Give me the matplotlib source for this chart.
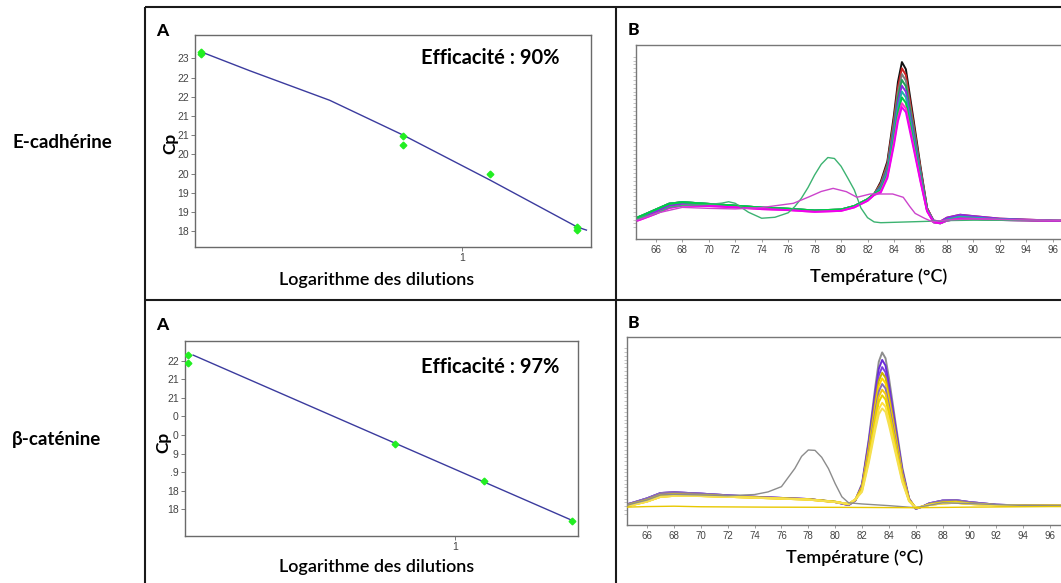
import matplotlib
matplotlib.use("Agg")
import numpy as np
import matplotlib.pyplot as plt
from matplotlib.lines import Line2D
from matplotlib.ticker import FixedLocator, FixedFormatter, NullLocator

W, H, DPI = 1061, 583, 100

# ---------------- standard curves (Cp vs dilution) ----------------
ecad_dil = [0.125, 0.125, 0.625, 0.625, 1.25, 2.5, 2.5]
ecad_cp = [23.17, 23.11, 20.98, 20.74, 20.0, 18.61, 18.53]
ecad_fit_x = [0.125, 0.184, 0.348, 0.626, 1.25, 2.5, 2.69]
ecad_fit_y = [23.17, 22.68, 21.91, 21.0, 19.83, 18.61, 18.53]
ecad_yticks = [23.0, 22.5, 22.0, 21.5, 21.0, 20.5, 20.0, 19.5, 19.0, 18.5]
ecad_ylabels = ["23", "22", "22", "21", "21", "20", "20", "19", "19", "18"]
ecad_eff = "Efficacité : 90%"

bcat_dil = [0.125, 0.125, 0.625, 1.25, 2.5]
bcat_cp = [22.15, 21.95, 19.77, 18.76, 17.69]
bcat_fit_x = [0.130, 2.51]
bcat_fit_y = [22.15, 17.69]
bcat_yticks = [22.0, 21.5, 21.0, 20.5, 20.0, 19.5, 19.0, 18.5, 18.0]
bcat_ylabels = ["22", "21", "21", "0", "0", "9", ".9", "18", "18"]
bcat_eff = "Efficacité : 97%"

# ---------------- melting curves, E-cadherine ----------------
b1_T_low = [64.5, 65, 66, 67, 68, 70, 72, 74, 76, 78, 80, 81, 82, 82.5]
b1_T_peak = [83, 83.5, 84, 84.3, 84.6, 84.9, 85.2, 85.5, 86, 86.5]
b1_T_tail = [87, 87.5, 88, 89, 90, 92, 94, 96, 98]

b1_low_a = [1.00, 1.13, 1.41, 1.70, 1.80, 1.75, 1.67, 1.58, 1.53, 1.44, 1.49, 1.67, 2.01, 2.30]
b1_low_b = [0.92, 1.04, 1.30, 1.60, 1.72, 1.70, 1.63, 1.54, 1.49, 1.40, 1.45, 1.63, 1.97, 2.27]
b1_low_c = [1.08, 1.22, 1.52, 1.82, 1.90, 1.81, 1.72, 1.62, 1.56, 1.47, 1.52, 1.70, 2.05, 2.33]
b1_tail_a = [0.90, 0.85, 1.00, 1.15, 1.10, 1.01, 0.98, 0.94, 0.93]
b1_tail_b = [0.86, 0.81, 0.95, 1.05, 1.04, 0.98, 0.96, 0.93, 0.92]
b1_tail_c = [0.95, 0.90, 1.10, 1.25, 1.18, 1.05, 1.00, 0.95, 0.94]

b1_peak_1 = [2.95, 4.00, 6.40, 8.10, 9.12, 8.75, 7.40, 6.05, 3.75, 1.60]
b1_peak_2 = [2.87, 3.88, 6.19, 7.82, 8.80, 8.45, 7.15, 5.85, 3.64, 1.58]
b1_peak_3 = [2.80, 3.77, 5.99, 7.56, 8.50, 8.16, 6.91, 5.67, 3.54, 1.55]
b1_peak_4 = [2.73, 3.66, 5.79, 7.30, 8.20, 7.87, 6.68, 5.48, 3.44, 1.53]
b1_peak_5 = [2.66, 3.55, 5.59, 7.04, 7.90, 7.59, 6.44, 5.29, 3.34, 1.51]
b1_peak_6 = [2.59, 3.44, 5.39, 6.77, 7.60, 7.30, 6.20, 5.11, 3.24, 1.49]
b1_peak_7 = [2.51, 3.33, 5.19, 6.51, 7.30, 7.01, 5.97, 4.92, 3.13, 1.47]
b1_peak_8 = [2.44, 3.22, 4.99, 6.25, 7.00, 6.73, 5.73, 4.73, 3.03, 1.44]
b1_peak_9 = [2.39, 3.14, 4.86, 6.07, 6.80, 6.53, 5.57, 4.61, 2.96, 1.43]

b1_traces = [
    ("#111111", b1_low_a, b1_peak_1, b1_tail_a),
    ("#cc2222", b1_low_c, b1_peak_2, b1_tail_c),
    ("#7d7d7d", b1_low_a, b1_peak_3, b1_tail_a),
    ("#1f9e5a", b1_low_c, b1_peak_4, b1_tail_b),
    ("#8a2be2", b1_low_a, b1_peak_5, b1_tail_c),
    ("#20b2aa", b1_low_c, b1_peak_6, b1_tail_a),
    ("#00cc44", b1_low_c, b1_peak_7, b1_tail_b),
    ("#ff33cc", b1_low_b, b1_peak_8, b1_tail_b),
    ("#ee00ee", b1_low_b, b1_peak_9, b1_tail_b),
]

b1_green_T = [64.5, 65, 66, 67, 68, 70, 71, 71.5, 72, 73, 74, 75, 76, 76.5, 77, 77.5, 78,
              78.5, 79, 79.5, 80, 80.5, 81, 81.5, 82, 82.5, 83, 84, 86, 87, 88, 90, 94, 98]
b1_green_V = [1.00, 1.13, 1.30, 1.64, 1.73, 1.78, 1.85, 1.92, 1.84, 1.38, 1.07, 1.12, 1.35, 1.67,
              2.10, 2.65, 3.30, 3.85, 4.20, 4.15, 3.75, 3.15, 2.53, 1.60, 1.10, 0.88, 0.84,
              0.86, 0.90, 0.92, 0.95, 0.97, 0.96, 0.94]
b1_pink_T = [64.5, 65, 66, 68, 70, 72, 74, 76.4, 77.6, 78.5, 79.4, 80.4, 81.2, 82.2, 83.9,
             84.7, 85.2, 85.6, 86.3, 86.9, 88, 90, 94, 98]
b1_pink_V = [0.95, 1.06, 1.32, 1.63, 1.58, 1.55, 1.62, 1.84, 2.18, 2.45, 2.61, 2.44, 2.15, 2.32,
             2.32, 2.15, 1.67, 1.32, 1.07, 0.89, 0.98, 1.04, 0.98, 0.95]

# ---------------- melting curves, beta-catenine ----------------
b2_T_low = [64.5, 65, 66, 67, 68, 70, 72, 74, 76, 78, 80, 81, 81.5]
b2_T_peak = [82, 82.5, 83, 83.25, 83.5, 83.75, 84, 84.5, 85, 85.5]
b2_T_tail = [86, 86.5, 87, 88, 89, 90, 92, 94, 96, 98]

b2_low_a = [1.05, 1.15, 1.33, 1.60, 1.63, 1.60, 1.54, 1.47, 1.42, 1.37, 1.24, 1.10, 1.33]
b2_low_p = [1.10, 1.20, 1.42, 1.70, 1.74, 1.67, 1.58, 1.50, 1.44, 1.38, 1.22, 1.06, 1.30]
b2_low_y = [1.00, 1.08, 1.25, 1.50, 1.55, 1.54, 1.50, 1.45, 1.40, 1.35, 1.22, 1.12, 1.36]
b2_tail_a = [0.89, 0.98, 1.10, 1.21, 1.24, 1.15, 1.06, 1.03, 1.03, 1.02]
b2_tail_p = [0.86, 0.98, 1.15, 1.30, 1.32, 1.22, 1.08, 1.04, 1.03, 1.02]
b2_tail_y = [0.92, 0.98, 1.06, 1.15, 1.18, 1.12, 1.05, 1.02, 1.02, 1.02]

b2_peak_1 = [2.20, 4.56, 7.41, 8.69, 9.18, 8.87, 7.85, 5.41, 3.05, 1.42]
b2_peak_2 = [2.14, 4.42, 7.12, 8.31, 8.78, 8.48, 7.47, 5.19, 2.91, 1.40]
b2_peak_3 = [2.09, 4.26, 6.83, 7.96, 8.40, 8.12, 7.15, 4.99, 2.82, 1.38]
b2_peak_4 = [2.04, 4.12, 6.59, 7.67, 8.10, 7.83, 6.90, 4.83, 2.74, 1.36]
b2_peak_5 = [2.00, 3.99, 6.35, 7.39, 7.80, 7.54, 6.65, 4.66, 2.67, 1.35]
b2_peak_6 = [1.95, 3.86, 6.12, 7.11, 7.50, 7.26, 6.41, 4.51, 2.60, 1.33]
b2_peak_7 = [1.91, 3.73, 5.88, 6.83, 7.20, 6.97, 6.15, 4.34, 2.52, 1.32]
b2_peak_8 = [1.87, 3.60, 5.64, 6.54, 6.90, 6.67, 5.90, 4.18, 2.45, 1.30]
b2_peak_9 = [1.81, 3.42, 5.33, 6.17, 6.50, 6.29, 5.57, 3.96, 2.35, 1.28]
b2_peak_10 = [1.76, 3.29, 5.10, 5.89, 6.20, 6.01, 5.32, 3.80, 2.28, 1.27]

b2_traces = [
    ("#8e8e8e", b2_low_a, b2_peak_1, b2_tail_a),
    ("#6a2bd9", b2_low_p, b2_peak_2, b2_tail_p),
    ("#7d3fe0", b2_low_p, b2_peak_3, b2_tail_p),
    ("#c9b400", b2_low_a, b2_peak_4, b2_tail_a),
    ("#ffd700", b2_low_y, b2_peak_5, b2_tail_y),
    ("#8a6fb0", b2_low_p, b2_peak_6, b2_tail_p),
    ("#f2c80f", b2_low_y, b2_peak_7, b2_tail_y),
    ("#e6d200", b2_low_a, b2_peak_8, b2_tail_a),
    ("#ffdf40", b2_low_y, b2_peak_9, b2_tail_y),
    ("#f5e050", b2_low_y, b2_peak_10, b2_tail_y),
]

b2_gray_T = [64.5, 65, 66, 67, 68, 70, 72, 74, 75, 76, 77, 77.5, 78, 78.5, 79, 79.5, 80,
             80.5, 81, 82, 84, 86, 87, 88, 90, 94, 98]
b2_gray_V = [1.05, 1.15, 1.33, 1.60, 1.63, 1.60, 1.56, 1.62, 1.76, 2.04, 3.01, 3.65, 3.99,
             3.97, 3.60, 3.00, 2.20, 1.50, 1.18, 1.12, 1.03, 0.92, 1.05, 1.18, 1.14, 1.04, 1.02]
b2_flat_T = [64.5, 66, 68, 70, 75, 80, 86, 90, 96, 98]
b2_flat_V = [0.95, 0.98, 1.00, 0.97, 0.95, 0.94, 0.92, 0.95, 0.98, 0.98]

# ---------------- layout helpers ----------------
fig = plt.figure(figsize=(W / DPI, H / DPI), dpi=DPI)
fig.patch.set_facecolor("white")

SANS = ["Lato", "DejaVu Sans"]
NARROW = ["Liberation Sans Narrow", "Liberation Sans", "DejaVu Sans"]


def rect(x0, y0, x1, y1):
    return [x0 / W, 1 - y1 / H, (x1 - x0) / W, (y1 - y0) / H]


def ftext(x, y, s, **kw):
    fig.text(x / W, 1 - y / H, s, **kw)


def fline(xs, ys, **kw):
    fig.add_artist(Line2D([x / W for x in xs], [1 - y / H for y in ys], **kw))


# table grid
grid_kw = dict(color="#1a1a1a", lw=1.5, solid_capstyle="butt")
fline([145, 1061], [7, 7], **grid_kw)
fline([145, 1061], [300, 300], **grid_kw)
fline([145, 145], [7, 583], **grid_kw)
fline([616, 616], [7, 583], **grid_kw)

# row titles
ftext(12, 143, "E-cadhérine", family=SANS, weight="bold", fontsize=13.5, va="center", ha="left")
ftext(12, 440, "β-caténine", family=SANS, weight="bold", fontsize=13.5, va="center", ha="left")


def std_panel(box, xlim, ylim, dil, cp, fx, fy, yticks, ylabels, eff, eff_xy, cp_xy,
              letter_xy, xlabel_xy):
    ax = fig.add_axes(rect(*box))
    ax.set_xscale("log")
    ax.plot(fx, fy, color="#3b3b9e", lw=1.0, zorder=2)
    ax.plot(dil, cp, ls="none", marker="D", ms=3.4, mfc="#22ee22", mec="#22ee22", zorder=3)
    ax.set_xlim(*xlim)
    ax.set_ylim(*ylim)
    ax.xaxis.set_major_locator(FixedLocator([1]))
    ax.xaxis.set_major_formatter(FixedFormatter(["1"]))
    ax.xaxis.set_minor_locator(NullLocator())
    ax.yaxis.set_major_locator(FixedLocator(yticks))
    ax.yaxis.set_major_formatter(FixedFormatter(ylabels))
    ax.yaxis.set_minor_locator(NullLocator())
    ax.tick_params(length=3, width=0.6, color="#666666", labelsize=7.5,
                   labelcolor="#444444", pad=1.5)
    for lab in ax.get_xticklabels() + ax.get_yticklabels():
        lab.set_family(NARROW)
    for sp in ax.spines.values():
        sp.set_color("#6a6a6a")
        sp.set_linewidth(1.0)
    ftext(*eff_xy, eff, family=SANS, weight="bold", fontsize=14.5, ha="center", va="center")
    ftext(*cp_xy, "Cp", family=SANS, weight="bold", fontsize=12.5, rotation=90,
          ha="center", va="center")
    ftext(*letter_xy, "A", family=SANS, weight="black", fontsize=12.5, ha="center", va="center")
    ftext(*xlabel_xy, "Logarithme des dilutions", family=SANS, weight="semibold",
          fontsize=13, ha="center", va="center")
    return ax


std_panel((195, 35, 591, 247), (0.119, 2.79), (18.09, 23.61), ecad_dil, ecad_cp,
          ecad_fit_x, ecad_fit_y, ecad_yticks, ecad_ylabels, ecad_eff,
          (490, 58), (170, 143), (162, 31), (377, 280))
std_panel((185, 341, 578, 536), (0.122, 2.61), (17.28, 22.53), bcat_dil, bcat_cp,
          bcat_fit_x, bcat_fit_y, bcat_yticks, bcat_ylabels, bcat_eff,
          (490, 367), (163, 442), (162, 325), (377, 567))


def melt_panel(box, traces, t_low, t_peak, t_tail, extras, label_xy, letter_xy):
    ax = fig.add_axes(rect(*box))
    t_all = t_low + t_peak + t_tail
    for color, low, peak, tail in traces:
        ax.plot(t_all, low + peak + tail, color=color, lw=1.4, zorder=2,
                solid_joinstyle="round")
    for t, v, color in extras:
        ax.plot(t, v, color=color, lw=1.0, zorder=3)
    ax.set_xlim(64.5, 97.5)
    ax.set_ylim(0, 10)
    ax.xaxis.set_major_locator(FixedLocator(list(range(66, 97, 2))))
    ax.yaxis.set_major_locator(FixedLocator(list(np.arange(0.6, 9.5, 0.2))))
    ax.yaxis.set_major_formatter(FixedFormatter([]))
    ax.tick_params(axis="x", length=2, width=0.5, color="#777777", labelsize=7,
                   labelcolor="#444444", pad=2)
    ax.tick_params(axis="y", length=2, width=0.4, color="#9a9a9a")
    for lab in ax.get_xticklabels():
        lab.set_family(NARROW)
    for sp in ax.spines.values():
        sp.set_color("#777777")
        sp.set_linewidth(1.0)
    ftext(*label_xy, "Température (°C)", family=SANS, weight="semibold", fontsize=13,
          ha="center", va="center")
    ftext(*letter_xy, "B", family=SANS, weight="black", fontsize=12.5, ha="center", va="center")
    return ax


melt_panel((636, 45, 636 + 33 * 13.23, 239), b1_traces, b1_T_low, b1_T_peak, b1_T_tail,
           [(b1_green_T, b1_green_V, "#3cb371"), (b1_pink_T, b1_pink_V, "#cc44cc")],
           (879, 277), (633, 30))
melt_panel((627, 337, 627 + 33 * 13.43, 525), b2_traces, b2_T_low, b2_T_peak, b2_T_tail,
           [(b2_gray_T, b2_gray_V, "#8c8c8c"), (b2_flat_T, b2_flat_V, "#e8c800")],
           (855, 558), (633, 323))

fig.savefig("out.png", dpi=DPI, facecolor="white")
